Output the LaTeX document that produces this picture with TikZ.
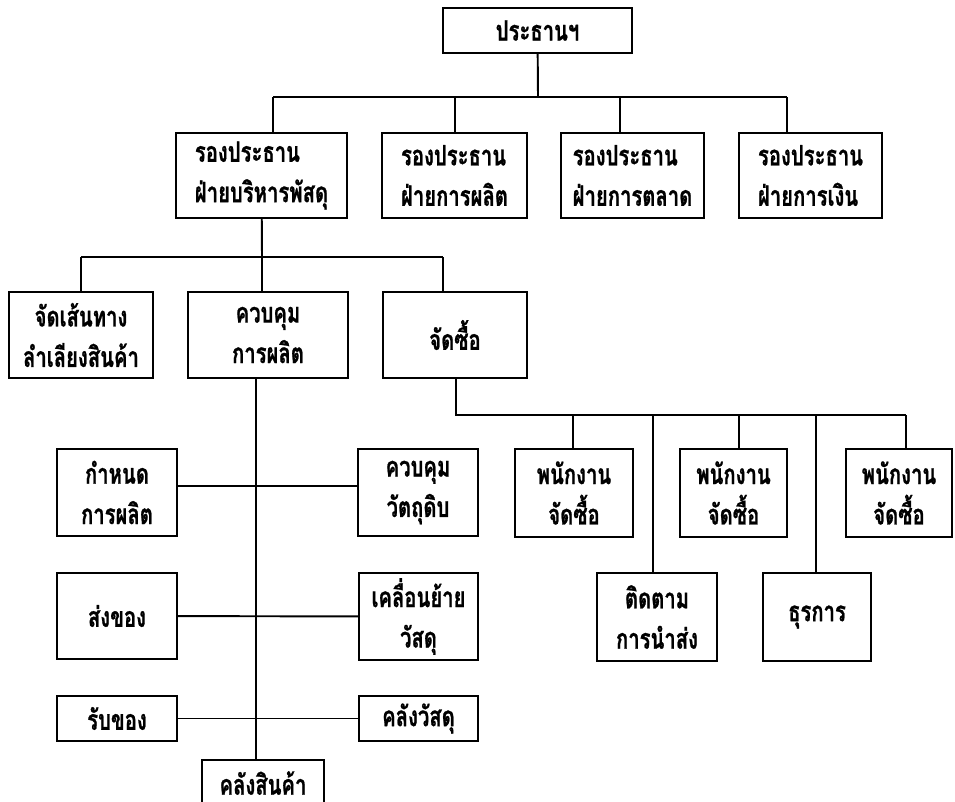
\documentclass[tikz,border=0pt]{standalone}
\usepackage{fontspec}
\newfontfamily\thaifont[Script=Thai,FakeStretch=0.72,BoldFeatures={FakeBold=0.8}]{Loma}
\tikzset{
  unit/.style={draw, line width=1.2pt, inner sep=0pt, align=center,
    font=\thaifont\bfseries\fontsize{16}{23}\selectfont},
  vpunit/.style={unit, align=left, minimum width=2.88cm, minimum height=1.7cm},
  link/.style={line width=1.1pt}
}

\begin{document}
\begin{tikzpicture}[x=0.02cm,y=-0.02cm]
  \useasboundingbox (0,0) rectangle (955,801);
  \clip (0,0) rectangle (955,801);
  % top
  \node[unit, minimum width=3.78cm, minimum height=0.9cm] (pres) at (537.5,30.5) {ประธานฯ};
  \node[vpunit, minimum width=3.42cm] (vp_sup) at (261.5,175.5) {รองประธาน\\ฝ่ายบริหารพัสดุ};
  \node[vpunit, minimum width=2.9cm] (vp_prod) at (454.5,175.5) {รองประธาน\\ฝ่ายการผลิต};
  \node[vpunit, minimum width=2.86cm] (vp_mkt) at (632.5,175.5) {รองประธาน\\ฝ่ายการตลาด};
  \node[vpunit, minimum width=2.86cm] (vp_fin) at (810.5,175.5) {รองประธาน\\ฝ่ายการเงิน};
  % third row
  \node[unit, minimum width=2.88cm, minimum height=1.72cm] (route) at (81,335) {จัดเส้นทาง\\ลำเลียงสินค้า};
  \node[unit, minimum width=3.2cm, minimum height=1.72cm] (prodctl) at (268,335) {ควบคุม\\การผลิต};
  \node[unit, minimum width=2.88cm, minimum height=1.72cm] (purch) at (455,335) {จัดซื้อ};
  % left column
  \node[unit, minimum width=2.4cm, minimum height=1.74cm] (plan) at (117,492.5) {กำหนด\\การผลิต};
  \node[unit, minimum width=2.4cm, minimum height=1.74cm] (rawctl) at (418,492.5) {ควบคุม\\วัตถุดิบ};
  \node[unit, minimum width=2.4cm, minimum height=1.72cm] (ship) at (117,616) {ส่งของ};
  \node[unit, minimum width=2.38cm, minimum height=1.74cm] (move) at (418.5,616.5) {เคลื่อนย้าย\\วัสดุ};
  \node[unit, minimum width=2.4cm, minimum height=0.9cm] (recv) at (117,718.5) {รับของ};
  \node[unit, minimum width=2.38cm, minimum height=0.9cm] (matstore) at (418.5,718.5) {คลังวัสดุ};
  \node[unit, minimum width=2.44cm, minimum height=0.92cm] (goods) at (263,783) {คลังสินค้า};
  % right group
  \node[unit, minimum width=2.36cm, minimum height=1.76cm] (buyer_1) at (574,493) {พนักงาน\\จัดซื้อ};
  \node[unit, minimum width=2.14cm, minimum height=1.76cm] (buyer_2) at (733.5,493) {พนักงาน\\จัดซื้อ};
  \node[unit, minimum width=2.12cm, minimum height=1.76cm] (buyer_3) at (899,493) {พนักงาน\\จัดซื้อ};
  \node[unit, minimum width=2.4cm, minimum height=1.76cm] (track) at (657,617) {ติดตาม\\การนำส่ง};
  \node[unit, minimum width=2.16cm, minimum height=1.76cm] (admin) at (817,617) {ธุรการ};

  % president to vice presidents
  \coordinate (top_bus) at (538,97);
  \coordinate (j_sup) at (273,97);
  \coordinate (j_fin) at (787,97);
  \draw[link] (pres) -- (top_bus);
  \draw[link] (j_sup) -- (j_fin);
  \draw[link] (j_sup) -- (j_sup |- vp_sup.north);
  \draw[link] (455,97) -- (455,97 |- vp_prod.north);
  \draw[link] (620,97) -- (620,97 |- vp_mkt.north);
  \draw[link] (j_fin) -- (j_fin |- vp_fin.north);

  % supply vice president
  \coordinate (mid_bus) at (262,257);
  \coordinate (j_route) at (81,257);
  \coordinate (j_purch) at (443,257);
  \draw[link] (vp_sup) -- (mid_bus);
  \draw[link] (j_route) -- (j_purch);
  \draw[link] (j_route) -- (route);
  \draw[link] (mid_bus) -- (mid_bus |- prodctl.north);
  \draw[link] (j_purch) -- (j_purch |- purch.north);

  % production control
  \coordinate (trunk) at (256,600);
  \draw[link] (trunk |- prodctl.south) -- (trunk |- goods.north);
  \draw[link] (plan.east |- 0,486) -- (rawctl.west |- 0,486);
  \draw[link] (ship) -- (move);
  \draw[link] (recv) -- (matstore);

  % purchasing
  \coordinate (buy_bus) at (456,415);
  \coordinate (j_b3) at (906,415);
  \draw[link] (buy_bus |- purch.south) -- (buy_bus) -- (j_b3);
  \draw[link] (573,415) -- (573,415 |- buyer_1.north);
  \draw[link] (653,415) -- (653,415 |- track.north);
  \draw[link] (739,415) -- (739,415 |- buyer_2.north);
  \draw[link] (816,415) -- (816,415 |- admin.north);
  \draw[link] (j_b3) -- (j_b3 |- buyer_3.north);
\end{tikzpicture}
\end{document}
